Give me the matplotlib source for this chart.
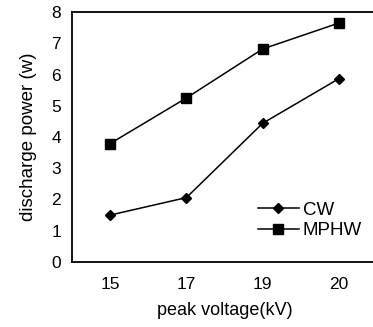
import numpy as np
import matplotlib.pyplot as plt

plt.rcParams['font.family'] = ['Liberation Sans', 'DejaVu Sans']

voltage = ['15', '17', '19', '20']
cw = [1.5, 2.06, 4.44, 5.87]
mphw = [3.79, 5.25, 6.82, 7.65]

fig = plt.figure(figsize=(3.73, 3.27), dpi=100)
ax = fig.add_axes([0.193, 0.199, 0.818, 0.764])
x = np.arange(len(voltage))
ax.plot(x, cw, color='black', lw=1.1, marker='D', ms=5, label='CW')
ax.plot(x, mphw, color='black', lw=1.1, marker='s', ms=7, label='MPHW')

ax.set_xlim(-0.5, 3.5)
ax.set_ylim(0, 8)
ax.set_xticks(x)
ax.set_xticklabels(voltage)
ax.set_yticks(range(0, 9))
ax.tick_params(length=0, labelsize=12.5)
ax.tick_params(axis='x', pad=11)
ax.tick_params(axis='y', pad=8)
for s in ax.spines.values():
    s.set_linewidth(1.3)
ax.set_xlabel('peak voltage(kV)', fontsize=13, labelpad=7)
ax.set_ylabel('discharge power (w)', fontsize=13.5, labelpad=10)
ax.legend(loc='lower right', bbox_to_anchor=(0.975, 0.06), frameon=False,
          fontsize=13.5, handlelength=2.2, handletextpad=0.2, labelspacing=0.2,
          borderaxespad=0)

fig.savefig('out.png', dpi=100)
